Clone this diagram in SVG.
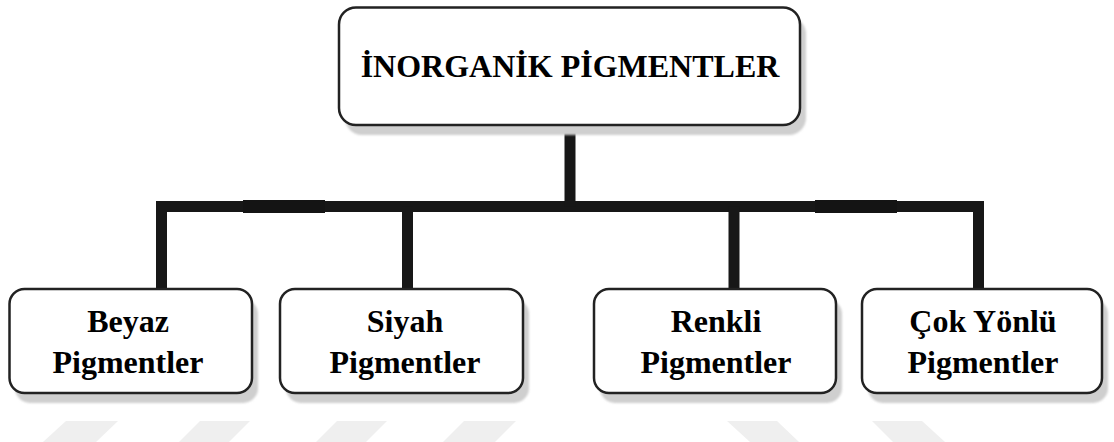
<svg xmlns="http://www.w3.org/2000/svg" width="1114" height="442" viewBox="0 0 1114 442">
<style>
.box{fill:#fff;stroke:#222;stroke-width:2.5}
.shadow{fill:#cfcfcf;filter:url(#blur)}
.lbl{font-family:"Liberation Serif","Times New Roman",serif;font-weight:bold;font-size:32px;fill:#000;text-anchor:middle}
.conn{fill:none;stroke:#171717;stroke-width:11;stroke-linejoin:miter}
.wm{fill:#efefef}
</style>
<defs>
<filter id="blur" x="-5%" y="-10%" width="110%" height="120%"><feGaussianBlur stdDeviation="1.2"/></filter>
</defs>
<rect width="1114" height="442" fill="#fff"/>
<g id="watermark">
<polygon class="wm" points="66,421 118,421 96,442 43,442"/>
<polygon class="wm" points="200,421 250,421 229,442 179,442"/>
<polygon class="wm" points="337,421 387,421 366,442 316,442"/>
<polygon class="wm" points="464,421 516,421 495,442 443,442"/>
<polygon class="wm" points="727,421 777,421 799,442 750,442"/>
<polygon class="wm" points="872,421 922,421 945,442 893,442"/>
</g>
<g id="connectors">
<path class="conn" d="M161.5,289 V206.5 H978.5 V289"/>
<path class="conn" d="M570,125 V206.5" stroke-width="12"/>
<path class="conn" d="M407.5,206.5 V289"/>
<path class="conn" d="M734,206.5 V289"/>
<rect x="243" y="200" width="82" height="13" fill="#141414"/>
<rect x="815" y="200" width="82" height="13" fill="#141414"/>
</g>
<g id="root">
<rect class="shadow" x="345" y="17" width="461" height="118" rx="17"/>
<rect class="box" x="339" y="7.5" width="461" height="117.5" rx="17"/>
<text class="lbl" x="570" y="77">İNORGANİK PİGMENTLER</text>
</g>
<g id="beyaz">
<rect class="shadow" x="15" y="299" width="243" height="104" rx="15"/>
<rect class="box" x="9.5" y="289" width="242.5" height="104" rx="15"/>
<text class="lbl" x="128" y="332">Beyaz</text>
<text class="lbl" x="128" y="373">Pigmentler</text>
</g>
<g id="siyah">
<rect class="shadow" x="286" y="299" width="243" height="104" rx="15"/>
<rect class="box" x="280" y="289" width="243" height="104" rx="15"/>
<text class="lbl" x="405" y="332">Siyah</text>
<text class="lbl" x="405" y="373">Pigmentler</text>
</g>
<g id="renkli">
<rect class="shadow" x="600" y="299" width="242" height="104" rx="15"/>
<rect class="box" x="594" y="289" width="242" height="104" rx="15"/>
<text class="lbl" x="716" y="332">Renkli</text>
<text class="lbl" x="716" y="373">Pigmentler</text>
</g>
<g id="cokyonlu">
<rect class="shadow" x="868" y="299" width="240" height="104" rx="15"/>
<rect class="box" x="862" y="289" width="240" height="104" rx="15"/>
<text class="lbl" x="983" y="332">Çok Yönlü</text>
<text class="lbl" x="983" y="373">Pigmentler</text>
</g>
</svg>
